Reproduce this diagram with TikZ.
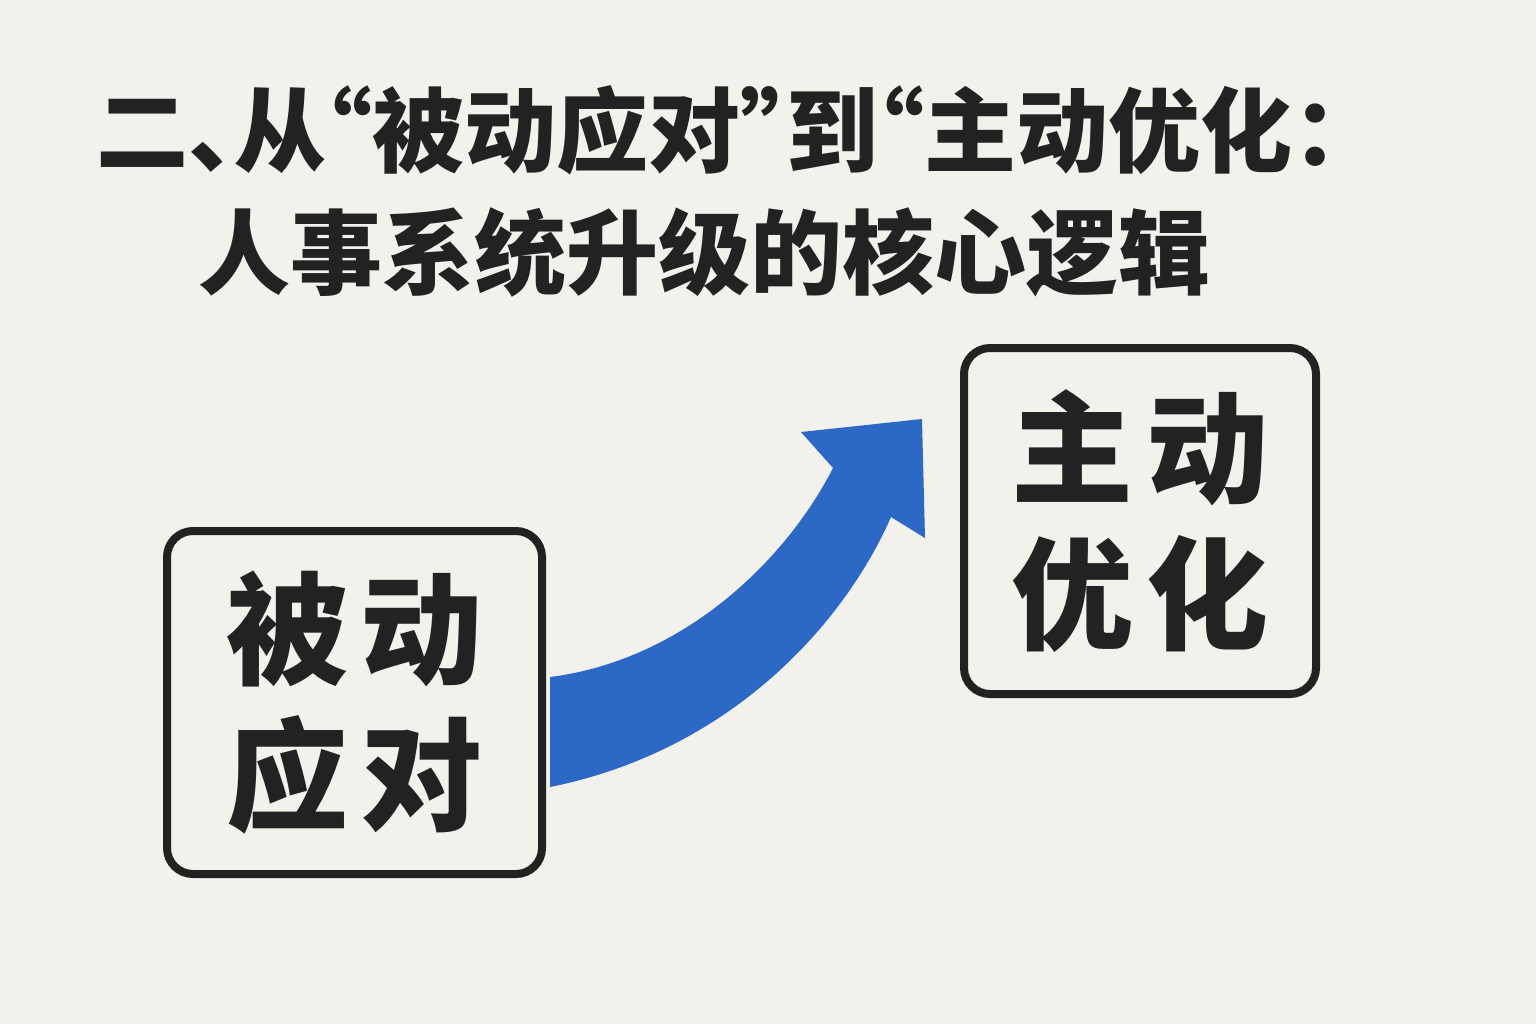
\documentclass[tikz,border=0pt]{standalone}
\usepackage{fontspec}
\usetikzlibrary{calc}
\newfontfamily\cjk{Noto Sans CJK SC}
\newfontfamily\cjkt[RawFeature=+halt]{Noto Sans CJK SC}
\definecolor{bgc}{HTML}{F3F1EC}
\definecolor{ink}{HTML}{222222}
\definecolor{arrowblue}{HTML}{2C69C6}
\newcommand{\gapch}{\hspace{6.5pt}}
\tikzset{
  titletext/.style={anchor=west, inner sep=0pt, text=ink, font=\cjkt\bfseries\fontsize{46}{50}\selectfont},
  boxnode/.style={draw=ink, line width=4pt, rounded corners=13pt, align=center, text=ink,
    font=\cjk\bfseries\fontsize{61}{73}\selectfont},
  bigarrow/.style={fill=arrowblue, draw=none}
}
\begin{document}
\begin{tikzpicture}[x=0.5pt,y=-0.5pt]
\fill[bgc] (0,0) rectangle (1536,1024);
\useasboundingbox (0,0) rectangle (1536,1024);
% title
\node[titletext] (t1) at (96,130) {二、从“被动应对”到“主动优化：};
\node[titletext] (t2) at (198,252) {人事系统升级的核心逻辑};
% boxes
\node[boxnode, minimum width=187.5pt, minimum height=171.5pt] (L) at (354.5,702.5) {被\gapch 动\\应\gapch 对};
\node[boxnode, minimum width=176pt, minimum height=173pt] (R) at (1140,521) {主\gapch 动\\优\gapch 化};
% arrow
\coordinate (u0) at ($(L.east)+(4,-25.5)$);
\coordinate (l0) at ($(L.east)+(4,84.5)$);
\coordinate (n1) at ($(R.west)+(-127,-53)$);
\coordinate (b1) at ($(R.west)+(-159,-89)$);
\coordinate (tp) at ($(R.west)+(-38,-102)$);
\coordinate (b2) at ($(R.west)+(-35,17)$);
\coordinate (n2) at ($(R.west)+(-69,-4)$);
\fill[bigarrow, line join=round] (u0) .. controls ($(u0)+(134,-17)$) and ($(n1)+(-47,92)$) .. (n1)
  -- (b1) -- (tp) -- (b2) -- (n2)
  .. controls ($(n2)+(-45,103)$) and ($(l0)+(184,-37)$) .. (l0) -- cycle;
\end{tikzpicture}
\end{document}
